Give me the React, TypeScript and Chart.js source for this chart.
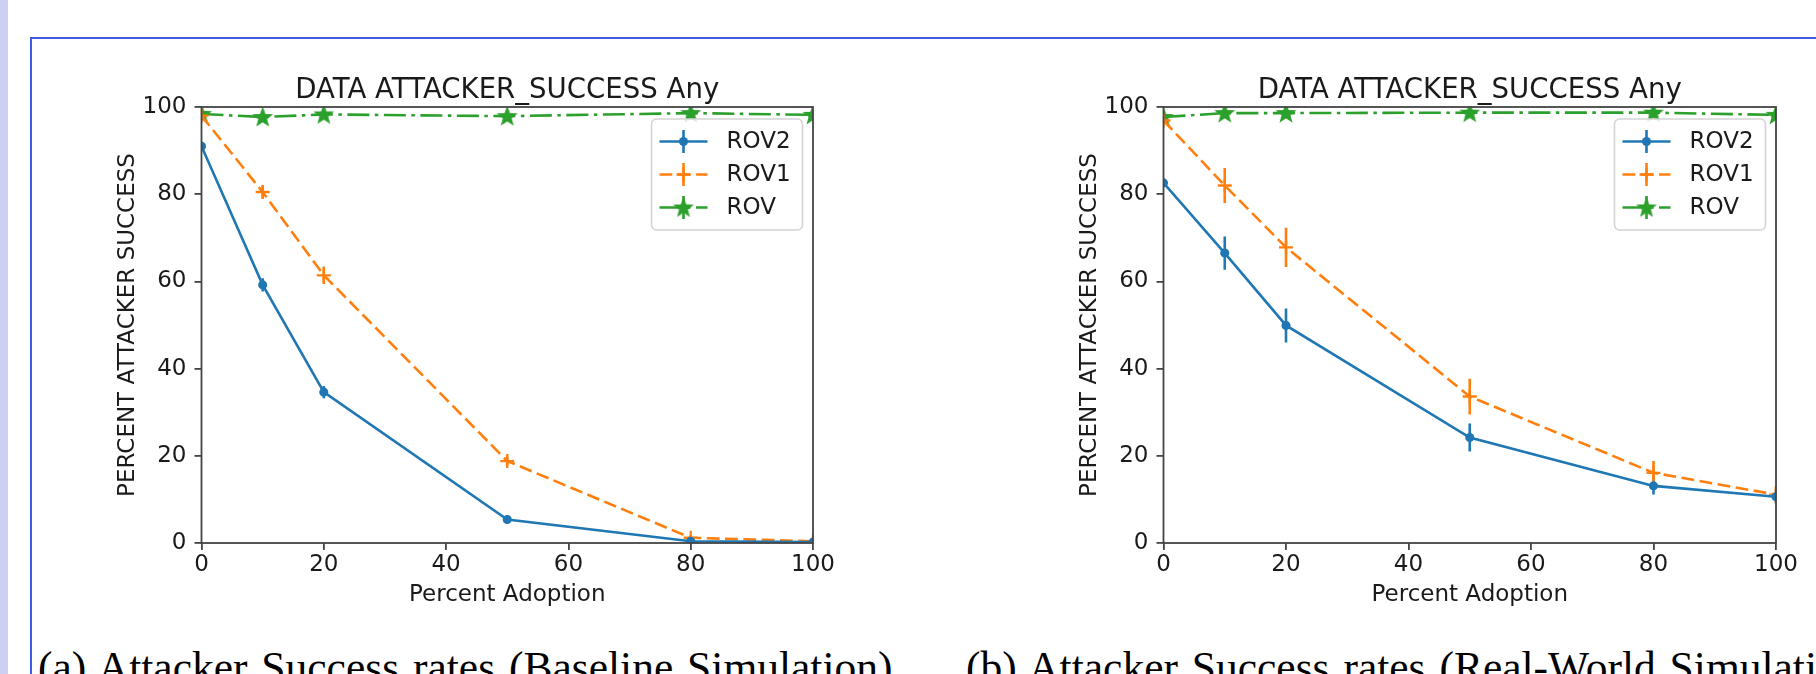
import React, { useEffect, useRef } from "react";
import { Chart, registerables } from "chart.js";

Chart.register(...registerables);

// ---------------- data ----------------
const adoption = [0, 10, 20, 50, 80, 100];
const axisTicks = [0, 20, 40, 60, 80, 100];
const seriesLabels = ["ROV2", "ROV1", "ROV"];

const baselineROV2 = [91.0, 59.2, 34.6, 5.4, 0.4, 0.2];
const baselineROV1 = [98.0, 80.5, 61.4, 18.8, 1.2, 0.4];
const baselineROV = [98.4, 97.7, 98.3, 97.9, 98.6, 98.2];
const baselineErrROV2 = [0.6, 1.5, 1.4, 0.6, 0.3, 0.2];
const baselineErrROV1 = [0.4, 1.5, 2.0, 1.0, 0.5, 0.3];
const baselineErrROV = [0.4, 0.6, 0.5, 0.5, 0.4, 0.4];

const realROV2 = [82.6, 66.5, 49.9, 24.2, 13.1, 10.6];
const realROV1 = [96.9, 82.0, 67.8, 33.6, 16.1, 11.1];
const realROV = [97.7, 98.6, 98.6, 98.7, 98.7, 98.2];
const realErrROV2 = [0.8, 3.8, 3.9, 3.2, 2.0, 1.5];
const realErrROV1 = [0.8, 4.0, 4.5, 4.1, 2.7, 2.0];
const realErrROV = [0.6, 0.5, 0.5, 0.5, 0.5, 0.5];

const chartTitle = "DATA ATTACKER_SUCCESS Any";
const xAxisTitle = "Percent Adoption";
const yAxisTitle = "PERCENT ATTACKER SUCCESS";
const captionA = "(a) Attacker Success rates (Baseline Simulation)";
const captionB = "(b) Attacker Success rates (Real-World Simulation)";

// ---------------- styles ----------------
const BLUE = "#1f77b4";
const ORANGE = "#ff7f0e";
const GREEN = "#2ca02c";
const TEXT = "#1a1a1a";
const SPINE = "#444444";
const FONT = "'DejaVu Sans', sans-serif";

function makeStar(color: string, R: number): HTMLCanvasElement {
  const c = document.createElement("canvas");
  const s = Math.ceil(2 * R + 4);
  c.width = s;
  c.height = s;
  const g = c.getContext("2d")!;
  g.fillStyle = color;
  g.strokeStyle = color;
  g.lineWidth = 1.4;
  g.beginPath();
  for (let k = 0; k < 10; k++) {
    const r = k % 2 === 0 ? R : R * 0.42;
    const ang = -Math.PI / 2 + (k * Math.PI) / 5;
    const px = s / 2 + r * Math.cos(ang);
    const py = s / 2 + 0.6 + r * Math.sin(ang);
    if (k === 0) g.moveTo(px, py);
    else g.lineTo(px, py);
  }
  g.closePath();
  g.fill();
  g.stroke();
  return c;
}

function drawLegendMarker(ctx: CanvasRenderingContext2D, ds: any, x: number, y: number) {
  const style = ds.pointStyle;
  ctx.save();
  ctx.setLineDash([]);
  if (style instanceof HTMLCanvasElement) {
    ctx.drawImage(style, x - style.width / 2, y - style.height / 2);
  } else if (style === "circle") {
    ctx.fillStyle = ds.pointBackgroundColor;
    ctx.beginPath();
    ctx.arc(x, y, ds.pointRadius + ds.pointBorderWidth / 2, 0, Math.PI * 2);
    ctx.fill();
  } else if (style === "cross") {
    const d = ds.pointRadius;
    ctx.strokeStyle = ds.pointBorderColor;
    ctx.lineWidth = ds.pointBorderWidth;
    ctx.beginPath();
    ctx.moveTo(x - d, y);
    ctx.lineTo(x + d, y);
    ctx.moveTo(x, y - d);
    ctx.lineTo(x, y + d);
    ctx.stroke();
  }
  ctx.restore();
}

const errorBarPlugin = {
  id: "errorBars",
  beforeDatasetsDraw(chart: any) {
    const { ctx, chartArea: a, scales } = chart;
    ctx.save();
    ctx.beginPath();
    ctx.rect(a.left, a.top, a.right - a.left, a.bottom - a.top);
    ctx.clip();
    chart.data.datasets.forEach((ds: any) => {
      const errs: number[] = ds.errorBars;
      if (!errs) return;
      ctx.strokeStyle = ds.borderColor;
      ctx.lineWidth = ds.borderWidth;
      ctx.setLineDash([]);
      ds.data.forEach((p: any, j: number) => {
        const px = scales.x.getPixelForValue(p.x);
        ctx.beginPath();
        ctx.moveTo(px, scales.y.getPixelForValue(p.y - errs[j]));
        ctx.lineTo(px, scales.y.getPixelForValue(p.y + errs[j]));
        ctx.stroke();
      });
    });
    ctx.restore();
  },
};

const framePlugin = {
  id: "mplFrame",
  afterDraw(chart: any) {
    const { ctx, chartArea: a } = chart;
    ctx.save();
    ctx.strokeStyle = SPINE;
    ctx.lineWidth = 1.8;
    ctx.strokeRect(a.left, a.top, a.right - a.left, a.bottom - a.top);
    ctx.font = `27.6px ${FONT}`;
    ctx.fillStyle = TEXT;
    ctx.textAlign = "center";
    ctx.textBaseline = "alphabetic";
    ctx.fillText(chartTitle, (a.left + a.right) / 2, a.top - 9);
    ctx.restore();
  },
};

const legendPlugin = {
  id: "mplLegend",
  afterDraw(chart: any) {
    const { ctx, chartArea: a } = chart;
    const boxW = 151;
    const boxH = 111;
    const x0 = a.right - 10.5 - boxW;
    const y0 = a.top + 12;
    ctx.save();
    ctx.beginPath();
    const r = 5;
    ctx.moveTo(x0 + r, y0);
    ctx.lineTo(x0 + boxW - r, y0);
    ctx.arcTo(x0 + boxW, y0, x0 + boxW, y0 + r, r);
    ctx.lineTo(x0 + boxW, y0 + boxH - r);
    ctx.arcTo(x0 + boxW, y0 + boxH, x0 + boxW - r, y0 + boxH, r);
    ctx.lineTo(x0 + r, y0 + boxH);
    ctx.arcTo(x0, y0 + boxH, x0, y0 + boxH - r, r);
    ctx.lineTo(x0, y0 + r);
    ctx.arcTo(x0, y0, x0 + r, y0, r);
    ctx.closePath();
    ctx.fillStyle = "rgba(255,255,255,0.8)";
    ctx.fill();
    ctx.strokeStyle = "#d4d4d4";
    ctx.lineWidth = 1.6;
    ctx.stroke();
    chart.data.datasets.forEach((ds: any, i: number) => {
      const cy = y0 + 22.5 + i * 33;
      const hx0 = x0 + 8;
      const hx1 = x0 + 56;
      const cx = (hx0 + hx1) / 2;
      ctx.strokeStyle = ds.borderColor;
      ctx.lineWidth = ds.borderWidth;
      ctx.setLineDash(ds.borderDash || []);
      ctx.beginPath();
      ctx.moveTo(hx0, cy);
      ctx.lineTo(hx1, cy);
      ctx.stroke();
      ctx.setLineDash([]);
      ctx.beginPath();
      ctx.moveTo(cx, cy - 11.5);
      ctx.lineTo(cx, cy + 11.5);
      ctx.stroke();
      drawLegendMarker(ctx, ds, cx, cy);
      ctx.font = `23px ${FONT}`;
      ctx.fillStyle = TEXT;
      ctx.textAlign = "left";
      ctx.textBaseline = "middle";
      ctx.fillText(ds.label, x0 + 75, cy + 1);
    });
    ctx.restore();
  },
};

function makeConfig(
  rov2: number[],
  rov1: number[],
  rov: number[],
  e2: number[],
  e1: number[],
  e0: number[],
  pad: { left: number; right: number; top: number; bottom: number },
  star: HTMLCanvasElement
): any {
  const pts = (vals: number[]) => adoption.map((x, i) => ({ x, y: vals[i] }));
  const tickFont = { family: FONT, size: 23, lineHeight: 1 };
  const titleFont = { family: FONT, size: 23, lineHeight: 1.2 };
  return {
    type: "line",
    data: {
      datasets: [
        {
          label: seriesLabels[0],
          data: pts(rov2),
          errorBars: e2,
          borderColor: BLUE,
          backgroundColor: BLUE,
          borderWidth: 2.6,
          pointStyle: "circle",
          pointRadius: 3.8,
          pointBorderWidth: 1.5,
          pointBackgroundColor: BLUE,
          pointBorderColor: BLUE,
          tension: 0,
          fill: false,
          clip: 0,
        },
        {
          label: seriesLabels[1],
          data: pts(rov1),
          errorBars: e1,
          borderColor: ORANGE,
          backgroundColor: ORANGE,
          borderWidth: 2.6,
          borderDash: [12.8, 5.5],
          pointStyle: "cross",
          pointRadius: 7,
          pointBorderWidth: 2.3,
          pointBackgroundColor: ORANGE,
          pointBorderColor: ORANGE,
          tension: 0,
          fill: false,
          clip: 0,
        },
        {
          label: seriesLabels[2],
          data: pts(rov),
          errorBars: e0,
          borderColor: GREEN,
          backgroundColor: GREEN,
          borderWidth: 2.6,
          borderDash: [22, 5.5, 3.5, 5.5],
          pointStyle: star,
          pointRadius: 9,
          pointBorderWidth: 1,
          pointBackgroundColor: GREEN,
          pointBorderColor: GREEN,
          tension: 0,
          fill: false,
          clip: 0,
        },
      ],
    },
    options: {
      animation: false,
      responsive: false,
      maintainAspectRatio: false,
      events: [],
      layout: { padding: pad },
      plugins: {
        legend: { display: false },
        tooltip: { enabled: false },
        title: { display: false },
      },
      scales: {
        x: {
          type: "linear",
          min: 0,
          max: 100,
          afterBuildTicks: (s: any) => {
            s.ticks = axisTicks.map((v) => ({ value: v }));
          },
          afterFit: (s: any) => {
            s.height = 80;
          },
          ticks: { font: tickFont, color: TEXT, padding: 4, maxRotation: 0, autoSkip: false },
          grid: { drawOnChartArea: false, drawTicks: true, tickLength: 7, color: SPINE, lineWidth: 1.8 },
          border: { display: false },
          title: { display: true, text: xAxisTitle, font: titleFont, color: TEXT, padding: { top: 0, bottom: 14.5 } },
        },
        y: {
          type: "linear",
          min: 0,
          max: 100,
          afterBuildTicks: (s: any) => {
            s.ticks = axisTicks.map((v) => ({ value: v }));
          },
          afterFit: (s: any) => {
            s.width = 100;
          },
          ticks: { font: tickFont, color: TEXT, padding: 8, autoSkip: false },
          grid: { drawOnChartArea: false, drawTicks: true, tickLength: 7, color: SPINE, lineWidth: 1.8 },
          border: { display: false },
          title: { display: true, text: yAxisTitle, font: titleFont, color: TEXT, padding: { top: 12.7, bottom: 0 } },
        },
      },
    },
    plugins: [errorBarPlugin, framePlugin, legendPlugin],
  };
}

export default function App() {
  const leftRef = useRef<HTMLCanvasElement | null>(null);
  const rightRef = useRef<HTMLCanvasElement | null>(null);

  useEffect(() => {
    const star = makeStar(GREEN, 9);
    const c1 = new Chart(
      leftRef.current!,
      makeConfig(
        baselineROV2,
        baselineROV1,
        baselineROV,
        baselineErrROV2,
        baselineErrROV1,
        baselineErrROV,
        { left: 41.5, right: 47, top: 67, bottom: 17 },
        star
      )
    );
    const c2 = new Chart(
      rightRef.current!,
      makeConfig(
        realROV2,
        realROV1,
        realROV,
        realErrROV2,
        realErrROV1,
        realErrROV,
        { left: 43.5, right: 40, top: 67, bottom: 17 },
        star
      )
    );
    return () => {
      c1.destroy();
      c2.destroy();
    };
  }, []);

  const captionStyle: React.CSSProperties = {
    position: "absolute",
    top: 645,
    fontFamily: "'Liberation Serif', serif",
    fontSize: 43.5,
    lineHeight: "44px",
    color: "#000",
    whiteSpace: "nowrap",
    wordSpacing: 3,
  };

  return (
    <div
      style={{
        position: "absolute",
        left: 0,
        top: 0,
        width: 1816,
        height: 674,
        overflow: "hidden",
        background: "#ffffff",
      }}
    >
      <div style={{ position: "absolute", left: 0, top: 0, width: 8, height: 674, background: "#cdd0f3" }} />
      <div
        style={{
          position: "absolute",
          left: 30,
          top: 37,
          width: 1900,
          height: 800,
          borderTop: "2px solid #4259e3",
          borderLeft: "2px solid #4259e3",
        }}
      />
      <canvas
        ref={leftRef}
        width={800}
        height={600}
        style={{ position: "absolute", left: 60, top: 40, width: 800, height: 600 }}
      />
      <canvas
        ref={rightRef}
        width={796}
        height={600}
        style={{ position: "absolute", left: 1020, top: 40, width: 796, height: 600 }}
      />
      <div style={{ ...captionStyle, left: 38 }}>{captionA}</div>
      <div style={{ ...captionStyle, left: 966 }}>{captionB}</div>
    </div>
  );
}
